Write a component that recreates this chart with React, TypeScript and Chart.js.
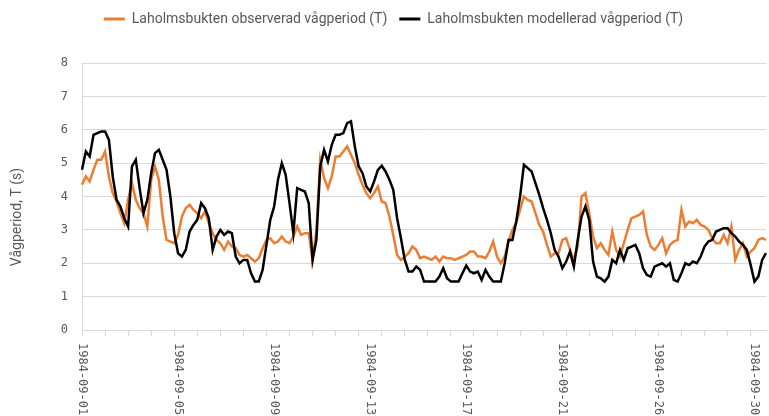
import React, { useEffect, useRef } from 'react';
import { Chart, registerables } from 'chart.js';

Chart.register(...registerables);

// Observed and modelled wave period (s), 4-hour steps from 1984-09-01 00:00
const observed = [
  4.35, 4.6, 4.45, 4.8, 5.1, 5.1, 5.35, 4.6, 4.1, 3.85,
  3.5, 3.2, 3.9, 4.4, 3.9, 3.65, 3.5, 3.1, 4.5, 4.9,
  4.5, 3.4, 2.7, 2.65, 2.6, 2.85, 3.4, 3.65, 3.75, 3.6,
  3.5, 3.35, 3.55, 3.2, 2.9, 2.7, 2.6, 2.4, 2.65, 2.5,
  2.45, 2.25, 2.2, 2.25, 2.15, 2.05, 2.15, 2.45, 2.7, 2.75,
  2.6, 2.65, 2.8, 2.65, 2.6, 2.8, 3.1, 2.85, 2.9, 2.9,
  2.1, 3.0, 5.1, 4.55, 4.25, 4.6, 5.2, 5.2, 5.35, 5.5,
  5.25, 5.0, 4.65, 4.35, 4.1, 3.95, 4.1, 4.3, 3.85, 3.8,
  3.4, 2.85, 2.25, 2.1, 2.2, 2.3, 2.5, 2.4, 2.15, 2.2,
  2.15, 2.1, 2.2, 2.05, 2.2, 2.15, 2.15, 2.1, 2.15, 2.2,
  2.25, 2.35, 2.35, 2.2, 2.2, 2.15, 2.35, 2.65, 2.2, 2.0,
  2.2, 2.65, 3.0, 3.2, 3.6, 4.0, 3.9, 3.85, 3.5, 3.15,
  2.95, 2.55, 2.2, 2.3, 2.3, 2.7, 2.75, 2.4, 2.1, 2.5,
  4.0, 4.1, 3.5, 2.8, 2.45, 2.6, 2.4, 2.25, 2.95, 2.4,
  2.2, 2.6, 3.0, 3.35, 3.4, 3.45, 3.55, 2.85, 2.5, 2.4,
  2.55, 2.75, 2.3, 2.55, 2.65, 2.7, 3.6, 3.1, 3.25, 3.2,
  3.3, 3.15, 3.1, 3.0, 2.75, 2.6, 2.6, 2.85, 2.6, 3.1,
  2.1, 2.4, 2.6, 2.2, 2.35, 2.45, 2.7, 2.75, 2.7,
];

const modelled = [
  4.8, 5.35, 5.2, 5.85, 5.9, 5.95, 5.95, 5.7, 4.6, 3.9,
  3.7, 3.35, 3.1, 4.9, 5.1, 4.25, 3.5, 3.9, 4.7, 5.3,
  5.4, 5.1, 4.8, 4.0, 2.9, 2.3, 2.2, 2.4, 2.95, 3.15,
  3.3, 3.8, 3.65, 3.35, 2.4, 2.8, 3.0, 2.85, 2.95, 2.9,
  2.2, 2.0, 2.1, 2.1, 1.7, 1.45, 1.45, 1.8, 2.55, 3.3,
  3.7, 4.5, 5.0, 4.65, 3.8, 2.9, 4.25, 4.2, 4.15, 3.8,
  2.1, 2.7, 4.9, 5.4, 5.05, 5.55, 5.85, 5.85, 5.9, 6.2,
  6.25, 5.5, 4.9, 4.7, 4.3, 4.15, 4.45, 4.8, 4.92, 4.75,
  4.5, 4.2, 3.35, 2.75, 2.1, 1.75, 1.75, 1.9, 1.8, 1.45,
  1.45, 1.45, 1.45, 1.6, 1.85, 1.55, 1.45, 1.45, 1.45, 1.7,
  1.93, 1.75, 1.7, 1.75, 1.5, 1.8, 1.6, 1.45, 1.45, 1.45,
  2.0, 2.7, 2.7, 3.25, 4.0, 4.95, 4.85, 4.75, 4.4, 4.05,
  3.65, 3.3, 2.9, 2.4, 2.2, 1.85, 2.05, 2.35, 1.9, 2.7,
  3.4, 3.7, 3.3, 2.05, 1.6, 1.55, 1.45, 1.6, 2.1, 2.0,
  2.4, 2.1, 2.45, 2.5, 2.55, 2.3, 1.85, 1.65, 1.6, 1.9,
  1.95, 2.0, 1.9, 2.0, 1.5, 1.45, 1.7, 2.0, 1.95, 2.05,
  2.0, 2.2, 2.5, 2.65, 2.7, 2.95, 3.0, 3.05, 3.05, 2.9,
  2.8, 2.65, 2.55, 2.4, 1.95, 1.45, 1.6, 2.1, 2.3,
];

const seriesNames = [
  'Laholmsbukten observerad vågperiod (T)',
  'Laholmsbukten modellerad vågperiod (T)',
];
const yTitle = 'Vågperiod, T (s)';

const STEP_HOURS = 4;
const LABEL_EVERY = 25; // a date label every 100 hours
const TICK_EVERY = 6; // a tick mark every 24 hours
const Y_MIN = 0;
const Y_MAX = 8;

const categories: string[] = observed.map((_, i) => {
  const d = new Date(Date.UTC(1984, 8, 1) + i * STEP_HOURS * 3600000);
  return d.toISOString().slice(0, 16).replace('T', ' ');
});

const ORANGE = '#ED7D31';
const BLACK = '#000000';
const TEXT = '#595959';
const GRID = '#d9d9d9';
const MONO = '"DejaVu Sans Mono", monospace';
const SANS = 'Roboto, "Liberation Sans", sans-serif';

const decorPlugin = {
  id: 'decor',
  beforeInit(chart: any) {
    const legend = chart.legend;
    if (legend) {
      const orig = legend.fit.bind(legend);
      legend.fit = () => {
        orig();
        legend.height = 63;
      };
    }
  },
  afterDraw(chart: any) {
    const ctx = chart.ctx;
    const xs = chart.scales.x;
    ctx.save();
    ctx.fillStyle = TEXT;
    ctx.font = `12px ${MONO}`;
    ctx.textAlign = 'left';
    ctx.textBaseline = 'middle';
    categories.forEach((c, i) => {
      if (i % LABEL_EVERY !== 0) return;
      const x = xs.getPixelForValue(i);
      ctx.save();
      ctx.translate(x, xs.top + 13);
      ctx.rotate(Math.PI / 2);
      ctx.fillText(c.slice(0, 10), 0, 0);
      ctx.restore();
    });
    ctx.font = `14px ${SANS}`;
    ctx.textAlign = 'center';
    ctx.translate(17, 217);
    ctx.rotate(-Math.PI / 2);
    ctx.fillText(yTitle, 0, 0);
    ctx.restore();
  },
};

export default function App() {
  const ref = useRef<HTMLCanvasElement | null>(null);

  useEffect(() => {
    if (!ref.current) return;
    const chart = new Chart(ref.current, {
      type: 'line',
      data: {
        labels: categories,
        datasets: [
          {
            label: seriesNames[0],
            data: observed,
            borderColor: ORANGE,
            backgroundColor: ORANGE,
            borderWidth: 2.5,
            pointRadius: 0,
            tension: 0,
            order: 1,
          },
          {
            label: seriesNames[1],
            data: modelled,
            borderColor: BLACK,
            backgroundColor: BLACK,
            borderWidth: 2.5,
            pointRadius: 0,
            tension: 0,
            order: 0,
          },
        ],
      },
      options: {
        responsive: false,
        animation: false,
        layout: { padding: { left: 18, right: 0, top: 0, bottom: 0 } },
        plugins: {
          tooltip: { enabled: false },
          legend: {
            position: 'top',
            labels: {
              boxWidth: 21,
              boxHeight: 3,
              padding: 12,
              color: TEXT,
              font: { family: SANS, size: 14 },
              generateLabels: (c: any) =>
                (Chart.defaults.plugins.legend.labels as any)
                  .generateLabels(c)
                  .map((l: any) => ({ ...l, lineWidth: 0, fillStyle: l.strokeStyle }))
                  .sort((a: any, b: any) => a.datasetIndex - b.datasetIndex),
            },
          },
        },
        scales: {
          x: {
            type: 'category',
            ticks: { autoSkip: false, maxRotation: 0, callback: () => '' },
            grid: {
              drawOnChartArea: false,
              tickLength: 6,
              tickColor: (c: any) => (c.index % TICK_EVERY === 0 ? GRID : 'rgba(0,0,0,0)'),
            },
            border: { color: GRID },
            afterFit: (s: any) => {
              s.height = 86;
            },
          },
          y: {
            min: Y_MIN,
            max: Y_MAX,
            ticks: { stepSize: 1, color: TEXT, padding: 14, font: { family: MONO, size: 12 } },
            grid: { color: GRID, drawTicks: false },
            border: { color: GRID },
            afterFit: (s: any) => {
              s.width = 64;
            },
          },
        },
      },
      plugins: [decorPlugin],
    } as any);
    return () => chart.destroy();
  }, []);

  return (
    <div style={{ position: 'fixed', left: 0, top: 0, width: 769, height: 416, background: '#fff' }}>
      <canvas ref={ref} width={769} height={416} style={{ display: 'block' }} />
    </div>
  );
}
